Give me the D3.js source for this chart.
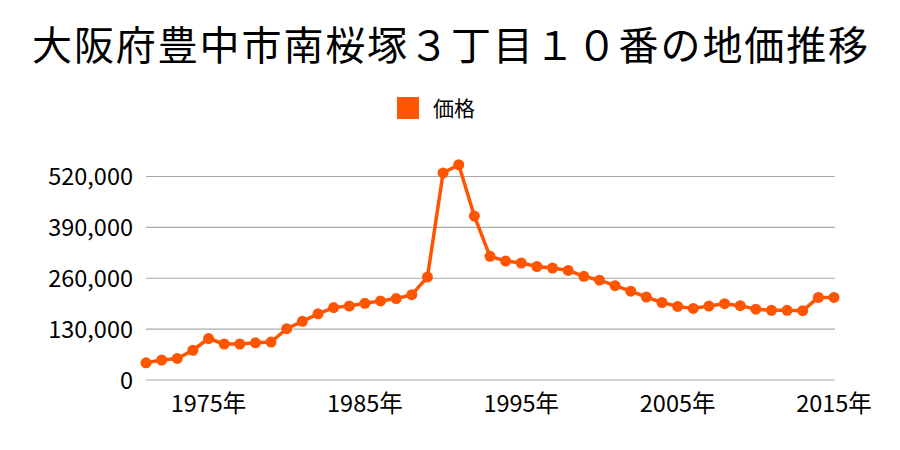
<!DOCTYPE html>
<html><head><meta charset="utf-8">
<script src="https://cdn.jsdelivr.net/npm/d3@7"></script>
<style>body{margin:0;background:#fff;} text{font-family:"Noto Sans CJK JP","Noto Sans",sans-serif;}</style>
</head><body><svg id="c" width="900" height="450"></svg>
<script>
const title = "大阪府豊中市南桜塚３丁目１０番の地価推移";
const seriesName = "価格";
const years = d3.range(1971, 2016);
const prices = [44000,51000,55000,76000,106000,92000,92000,95000,97000,131000,
150000,169000,185000,189000,196000,202000,208000,218000,263000,529000,
550000,419000,316000,304000,299000,290000,286000,280000,265000,255000,
241000,227000,212000,198000,188000,183000,189000,195000,190000,181000,
178000,178000,177000,211000,211000];
const yTicks = [0,130000,260000,390000,520000];
const xTicks = [1975,1985,1995,2005,2015];

const svg = d3.select("#c");
const color = "#ff5500";
const x = d3.scaleLinear().domain([1971,2015]).range([146,834]);
const y = d3.scaleLinear().domain([0,520000]).range([380,176.5]);

svg.append("text").attr("x",451).attr("y",60).attr("text-anchor","middle")
  .attr("font-size",40).attr("letter-spacing",1.9).attr("fill","#000").text(title);

svg.append("rect").attr("x",397).attr("y",97).attr("width",22).attr("height",22).attr("fill",color);
svg.append("text").attr("x",433).attr("y",115.5).attr("font-size",21).attr("fill","#000").text(seriesName);

const fmt = d3.format(",");
const g = svg.append("g");
yTicks.forEach(t=>{
  g.append("line").attr("x1",146).attr("x2",835).attr("y1",y(t)).attr("y2",y(t))
   .attr("stroke","#aaaaaa").attr("stroke-width",1.2);
  g.append("text").attr("x",133).attr("y",y(t)+8.5).attr("text-anchor","end")
   .attr("font-size",23.5).attr("fill","#000").text(fmt(t));
});
xTicks.forEach(t=>{
  g.append("text").attr("x",x(t)).attr("y",412).attr("text-anchor","middle")
   .attr("font-size",23.5).attr("fill","#000").text(t+"年");
});

const line = d3.line().x((d,i)=>x(years[i])).y(d=>y(d));
svg.append("path").datum(prices).attr("d",line).attr("fill","none")
  .attr("stroke",color).attr("stroke-width",3.5).attr("stroke-linejoin","round");
svg.selectAll("circle.p").data(prices).enter().append("circle")
  .attr("cx",(d,i)=>x(years[i])).attr("cy",d=>y(d)).attr("r",5.5).attr("fill",color);
</script></body></html>
